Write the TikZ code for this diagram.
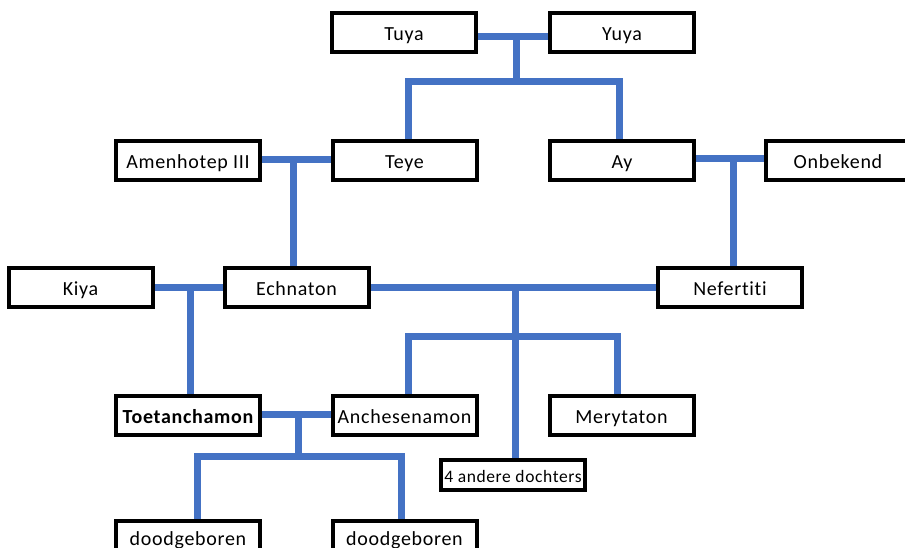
\documentclass[tikz,border=0pt]{standalone}
\usepackage{fontspec}
\setmainfont{Carlito}[Ligatures={NoCommon},LetterSpace=3.5]
\usetikzlibrary{backgrounds}
\definecolor{linkblue}{RGB}{68,114,196}
\begin{document}
\begin{tikzpicture}[x=1pt,y=-1pt,
  person/.style={draw=black,fill=white,line width=4pt,minimum width=144pt,minimum height=39pt,inner sep=0pt,text height=16pt,text depth=0pt,font=\fontsize{20}{24}\selectfont},
  small/.style={person,minimum height=30pt,text height=14pt,font=\fontsize{17.5}{21}\selectfont},
  link/.style={draw=linkblue,line width=7pt,line join=miter}]
\useasboundingbox (0,0) rectangle (905,547);
\clip (0,0) rectangle (905,547);
% people
\node[person] (tuya) at (404,32.5) {Tuya};
\node[person] (yuya) at (622,32.5) {Yuya};
\node[person] (amen) at (188,160.5) {Amenhotep III};
\node[person] (teye) at (404.5,160.5) {Teye};
\node[person] (ay) at (622,160.5) {Ay};
\node[person] (onb) at (838,160.5) {Onbekend};
\node[person] (kiya) at (80.5,287.5) {Kiya};
\node[person] (echn) at (296.5,287.5) {Echnaton};
\node[person] (nef) at (730,287.5) {Nefertiti};
\node[person] (toet) at (188,415) {\bfseries Toetanchamon};
\node[person] (anch) at (404.5,415) {Anchesenamon};
\node[person] (mery) at (621.5,415) {Merytaton};
\node[small] (vier) at (513,475) {4 andere dochters};
\node[person,text height=10pt] (dood1) at (188,540.5) {doodgeboren};
\node[person,text height=10pt] (dood2) at (404.5,540.5) {doodgeboren};
% junction coordinates
\coordinate (c1) at (516,36);
\coordinate (b1l) at (408,81);
\coordinate (b1r) at (619,81);
\coordinate (c2) at (293,159);
\coordinate (c3) at (733,158);
\coordinate (c4) at (190,287);
\coordinate (c5) at (515,287);
\coordinate (b5l) at (408,336);
\coordinate (b5r) at (617,336);
\coordinate (c6) at (298,414);
\coordinate (b6l) at (197,456);
\coordinate (b6r) at (401,456);
\begin{scope}[on background layer]
% Tuya + Yuya
\draw[link] (tuya.east |- c1) -- (yuya.west |- c1);
\draw[link] (c1) -- ([yshift=3.5pt]c1 |- b1l);
\draw[link] ([yshift=-3pt]teye.north -| b1l) -- (b1l) -- (b1r) -- ([yshift=-3pt]ay.north -| b1r);
% Amenhotep III + Teye
\draw[link] (amen.east |- c2) -- (teye.west |- c2);
\draw[link] (c2) -- (echn.north -| c2);
% Ay + Onbekend
\draw[link] (ay.east |- c3) -- (onb.west |- c3);
\draw[link] (c3) -- (nef.north -| c3);
% Kiya + Echnaton
\draw[link] (kiya.east |- c4) -- (echn.west |- c4);
\draw[link] (c4) -- (toet.north -| c4);
% Echnaton + Nefertiti
\draw[link] (echn.east |- c5) -- (nef.west |- c5);
\draw[link] (c5) -- (vier.north -| c5);
\draw[link] (anch.north -| b5l) -- (b5l) -- (b5r) -- (mery.north -| b5r);
% Toetanchamon + Anchesenamon
\draw[link] (toet.east |- c6) -- (anch.west |- c6);
\draw[link] (c6) -- ([yshift=3.5pt]c6 |- b6l);
\draw[link] ([yshift=-3pt]dood1.north -| b6l) -- (b6l) -- (b6r) -- ([yshift=-3pt]dood2.north -| b6r);
\end{scope}
\end{tikzpicture}
\end{document}
